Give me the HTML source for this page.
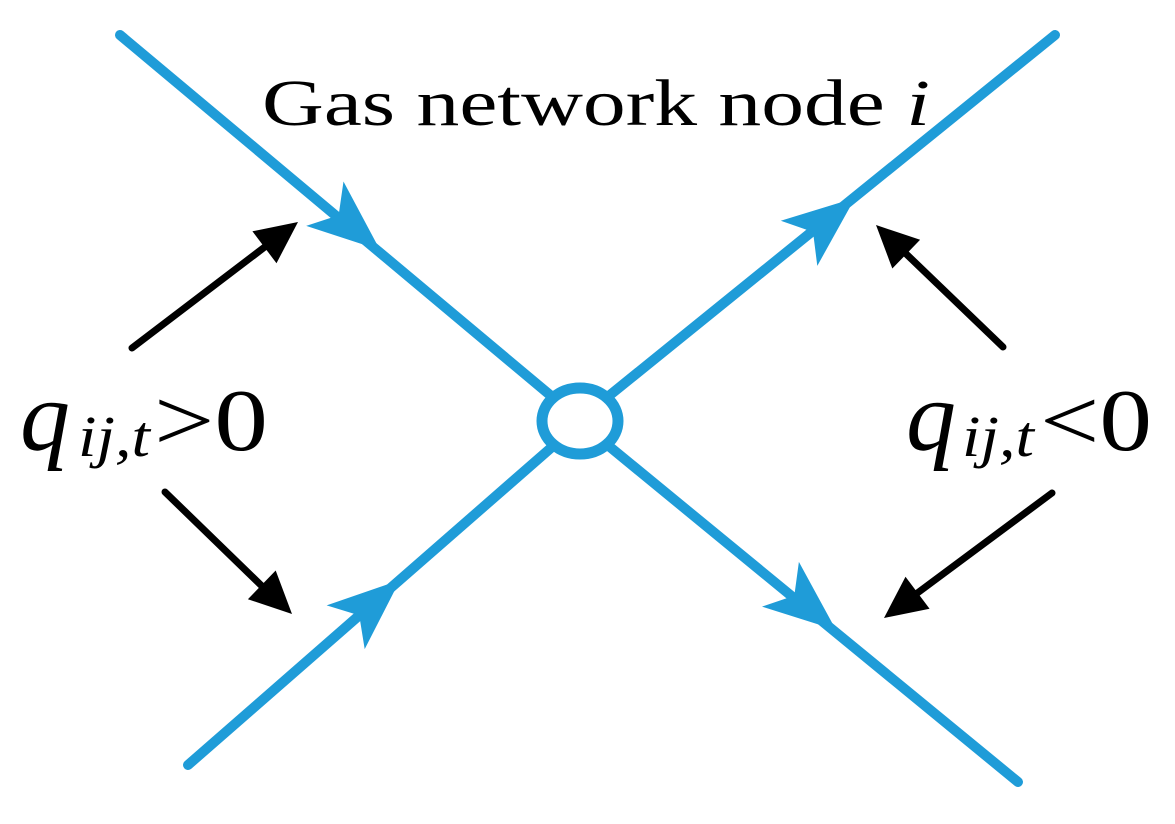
<!DOCTYPE html>
<html><head><meta charset="utf-8"><style>
html,body{margin:0;padding:0;background:#fff;}
svg{display:block;}
text{font-family:"Liberation Serif",serif;fill:#000;}
</style></head><body>
<svg width="1175" height="824" viewBox="0 0 1175 824" xmlns="http://www.w3.org/2000/svg">
<defs>
<g id="bh"><polygon points="0,0 -72,-29 -54,0 -72,29" fill="#1f9cd8"/></g>
<g id="kh"><polygon points="0,0 -42,-20 -42,20" fill="#000"/></g>
</defs>
<g stroke="#1f9cd8" stroke-width="10" stroke-linecap="round" fill="none">
<line x1="120" y1="35" x2="550" y2="395"/>
<line x1="610" y1="447" x2="1018" y2="782"/>
<line x1="1055" y1="35" x2="610" y2="395"/>
<line x1="552" y1="447" x2="188" y2="765"/>
<ellipse cx="580" cy="421" rx="38" ry="33" stroke-width="11"/>
</g>
<use href="#bh" transform="translate(380,250) rotate(40)"/>
<use href="#bh" transform="translate(855,198) rotate(-39)"/>
<use href="#bh" transform="translate(400,580) rotate(-41)"/>
<use href="#bh" transform="translate(836,630) rotate(39.5)"/>
<g stroke="#000" stroke-width="7" stroke-linecap="round">
<line x1="132" y1="348" x2="270" y2="243"/>
<line x1="1003" y1="347" x2="900" y2="248"/>
<line x1="165" y1="492" x2="268" y2="592"/>
<line x1="1052" y1="493" x2="912" y2="597"/>
</g>
<use href="#kh" transform="translate(298,222) rotate(-37)"/>
<use href="#kh" transform="translate(876,225) rotate(-136)"/>
<use href="#kh" transform="translate(292,614) rotate(44)"/>
<use href="#kh" transform="translate(884,618) rotate(143)"/>
<text x="262" y="125" font-size="66" textLength="668" lengthAdjust="spacingAndGlyphs">Gas network node <tspan font-style="italic">i</tspan></text>

<text x="20" y="450" font-size="100" font-style="italic">q</text>
<text x="78" y="456" font-size="58" font-style="italic" textLength="72" lengthAdjust="spacingAndGlyphs">ij,t</text>
<text x="154" y="450" font-size="88" textLength="114" lengthAdjust="spacingAndGlyphs">&gt;0</text>

<text x="906" y="450" font-size="100" font-style="italic">q</text>
<text x="962" y="456" font-size="58" font-style="italic" textLength="72" lengthAdjust="spacingAndGlyphs">ij,t</text>
<text x="1040" y="450" font-size="88" textLength="112" lengthAdjust="spacingAndGlyphs">&lt;0</text>
</svg>
</body></html>
